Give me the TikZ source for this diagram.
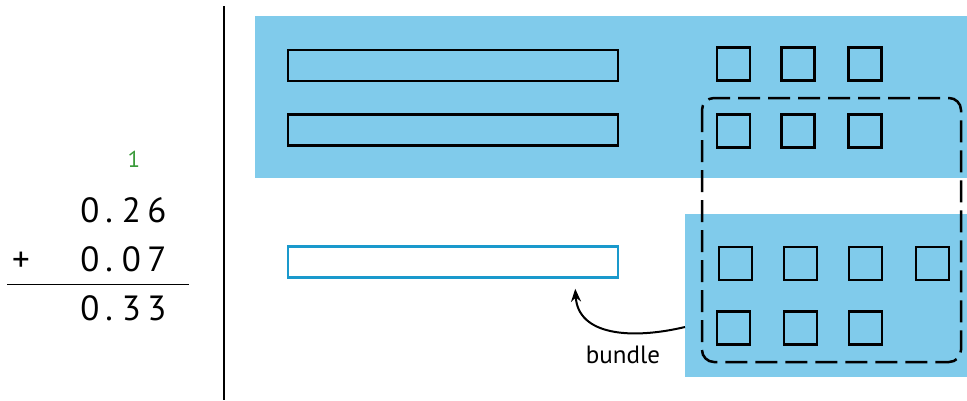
\documentclass[tikz,border=0pt]{standalone}
\usepackage{fontspec}
\setmainfont{PT Sans}
\usetikzlibrary{arrows.meta}
\definecolor{skyfill}{HTML}{80CBEB}
\definecolor{barblue}{HTML}{1A99CC}
\definecolor{carrygreen}{HTML}{3A9A3A}
\tikzset{
  panel/.style={fill=skyfill, draw=none, inner sep=0pt, outer sep=0pt},
  bar/.style={draw=black, line width=2.5pt, minimum width=330pt, minimum height=31pt, inner sep=0pt},
  unitsq/.style={draw=black, line width=2.5pt, minimum size=33pt, inner sep=0pt},
  digit/.style={inner sep=0pt, anchor=base, font=\fontsize{35}{40}\selectfont},
  bundlebox/.style={draw=black, line width=2.5pt, dash pattern=on 22pt off 8pt, rounded corners=12pt},
}
\begin{document}
\begin{tikzpicture}[x=1pt,y=-1pt]
\useasboundingbox (0,0) rectangle (967,400);
% panels
\fill[skyfill] (255,16) rectangle (967,178);
\fill[skyfill] (685,214) rectangle (967,377);
\node[panel, minimum width=282pt, minimum height=163pt] (panelbot) at (826,295.5) {};
% divider
\draw[line width=2.5pt] (224,6) -- (224,400);
% bars
\node[bar] (bar1) at (453,65.5) {};
\node[bar] (bar2) at (453,130) {};
\node[bar, draw=barblue, fill=white] (bar3) at (453,262) {};
% top squares
\node[unitsq] (s11) at (733.5,64) {};
\node[unitsq] (s12) at (798,64) {};
\node[unitsq] (s13) at (865,64) {};
\node[unitsq] (s21) at (733.5,131) {};
\node[unitsq] (s22) at (798,131) {};
\node[unitsq] (s23) at (865,131) {};
% bottom squares
\node[unitsq] (b11) at (735.5,263.5) {};
\node[unitsq] (b12) at (800.5,263.5) {};
\node[unitsq] (b13) at (865.5,263.5) {};
\node[unitsq] (b14) at (932.5,263.5) {};
\node[unitsq] (b21) at (733.5,328) {};
\node[unitsq] (b22) at (800.5,328) {};
\node[unitsq] (b23) at (865.5,328) {};
% dashed bundle
\draw[bundlebox] (702,98) rectangle (961,362);
% arrow
\coordinate (arrowstart) at (panelbot.west |- 0,327);
\coordinate (arrowend) at ([xshift=-44pt,yshift=-10pt]bar3.south east);
\draw[line width=2pt, -{Stealth[length=13pt,width=10pt]}] (arrowstart) .. controls (630,340) and (578,335) .. (arrowend);
\node[inner sep=0pt, anchor=base, font=\fontsize{25}{30}\selectfont] (bundlelbl) at (623,363) {bundle};
% column addition
\node[digit, font=\fontsize{23}{28}\selectfont, text=carrygreen] (carry) at (134,167) {1};
\node[digit] (a1) at (90,222) {0};
\node[digit] (a2) at (109,222) {.};
\node[digit] (a3) at (131.5,222) {2};
\node[digit] (a4) at (157,222) {6};
\node[digit] (plus) at (21,271) {+};
\node[digit] (c1) at (90,271) {0};
\node[digit] (c2) at (109,271) {.};
\node[digit] (c3) at (131.5,271) {0};
\node[digit] (c4) at (157,271) {7};
\draw[line width=1.5pt] (7,284.5) -- (189,284.5);
\node[digit] (r1) at (90,320) {0};
\node[digit] (r2) at (109,320) {.};
\node[digit] (r3) at (131.5,320) {3};
\node[digit] (r4) at (157,320) {3};
\end{tikzpicture}
\end{document}
